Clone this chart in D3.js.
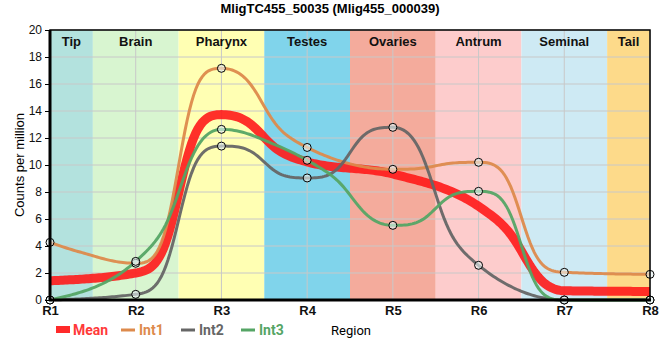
<!DOCTYPE html>
<html>
<head>
<meta charset="utf-8">
<script src="https://cdn.jsdelivr.net/npm/d3@7"></script>
<style>
  body { margin: 0; background: #fff; }
  svg { display: block; }
</style>
</head>
<body>
<svg id="chart" width="660" height="360"></svg>
<script>
const title = "MligTC455_50035 (Mlig455_000039)";
const regions = ["R1", "R2", "R3", "R4", "R5", "R6", "R7", "R8"];
const bandNames = ["Tip", "Brain", "Pharynx", "Testes", "Ovaries", "Antrum", "Seminal", "Tail"];
const bandColors = ["#b3e2de", "#d8f5d0", "#ffffb3", "#80d4eb", "#f4ab9c", "#fdcccc", "#ceeaf4", "#fdda8a"];
const int1 = [4.27, 2.72, 17.16, 11.3, 9.68, 10.2, 2.05, 1.9];
const int2 = [0, 0.42, 11.4, 9.04, 12.79, 2.57, 0, 0];
const int3 = [0, 2.86, 12.64, 10.35, 5.53, 8.05, 0, 0];
const yTicks = [0, 2, 4, 6, 8, 10, 12, 14, 16, 18, 20];
const seriesNames = ["Int1", "Int2", "Int3"];
const seriesColors = ["#dd8a4c", "#666666", "#55a565"];
const meanValues = regions.map((r, i) => (int1[i] + int2[i] + int3[i]) / 3);

// smooth curve factory: monotone tangents, blending cubic Hermite and a steep sigmoid near extrema
function curveSmoothStep(context) {
  let xs, ys;
  return {
    areaStart() {}, areaEnd() {},
    lineStart() { xs = []; ys = []; },
    point(px, py) { xs.push(+px); ys.push(+py); },
    lineEnd() {
      const n = xs.length;
      if (!n) return;
      const sl = [];
      for (let i = 0; i < n - 1; i++) sl.push((ys[i + 1] - ys[i]) / (xs[i + 1] - xs[i]));
      const m = new Array(n).fill(0);
      for (let i = 1; i < n - 1; i++) {
        const s0 = sl[i - 1], s1 = sl[i], p = (s0 + s1) / 2;
        m[i] = (Math.sign(s0) + Math.sign(s1)) * Math.min(Math.abs(s0), Math.abs(s1), 0.5 * Math.abs(p)) || 0;
      }
      if (n > 1) {
        const e0 = (3 * sl[0] - m[1]) / 2, e1 = (3 * sl[n - 2] - m[n - 2]) / 2;
        m[0] = e0 * sl[0] > 0 ? e0 : 0;
        m[n - 1] = e1 * sl[n - 2] > 0 ? e1 : 0;
      }
      const sig = t => { const a = Math.pow(t, 2.5), b = Math.pow(1 - t, 2.5); return a / (a + b); };
      context.moveTo(xs[0], ys[0]);
      for (let i = 0; i < n - 1; i++) {
        const h = xs[i + 1] - xs[i], d = ys[i + 1] - ys[i];
        const a0 = h * m[i], a1 = h * m[i + 1];
        const w = Math.abs(d) < 1e-9 ? 1 : Math.max(0, Math.min(1, 1 - (Math.abs(a0) + Math.abs(a1)) / (2 * Math.abs(d))));
        const steps = 40;
        for (let k = 1; k <= steps; k++) {
          const t = k / steps, s = sig(t);
          const steep = ys[i] + d * s + a0 * (t - s) * (1 - t) + a1 * (t - s) * t;
          const t2 = t * t, t3 = t2 * t;
          const cubic = ys[i] * (2 * t3 - 3 * t2 + 1) + ys[i + 1] * (3 * t2 - 2 * t3) + a0 * (t3 - 2 * t2 + t) + a1 * (t3 - t2);
          context.lineTo(xs[i] + h * t, w * steep + (1 - w) * cubic);
        }
      }
    }
  };
}

const svg = d3.select("#chart");
const L = 50, R = 650, T = 30, B = 300;

const x = d3.scalePoint().domain(regions).range([L, R]);
const y = d3.scaleLinear().domain([0, 20]).range([B, T]);
const step = x.step();
const bandL = i => Math.max(L, x(regions[i]) - step / 2);
const bandR = i => Math.min(R, x(regions[i]) + step / 2);

// bands
const g = svg.append("g");
g.selectAll("rect.band").data(bandNames).enter().append("rect")
  .attr("class", "band")
  .attr("x", (d, i) => bandL(i))
  .attr("width", (d, i) => bandR(i) - bandL(i))
  .attr("y", T).attr("height", B - T)
  .attr("fill", (d, i) => bandColors[i]);

// grid
g.selectAll("line.hgrid").data(yTicks).enter().append("line")
  .attr("x1", L).attr("x2", R).attr("y1", d => y(d)).attr("y2", d => y(d))
  .attr("stroke", "#c8c8c8").attr("stroke-width", 1);
g.selectAll("line.vgrid").data(regions).enter().append("line")
  .attr("x1", d => x(d)).attr("x2", d => x(d)).attr("y1", T).attr("y2", B)
  .attr("stroke", "#c8c8c8").attr("stroke-width", 1);

// band labels
g.selectAll("text.band").data(bandNames).enter().append("text")
  .attr("x", (d, i) => (bandL(i) + bandR(i)) / 2)
  .attr("y", 46)
  .attr("text-anchor", "middle")
  .attr("font-family", "Liberation Sans, Arial, sans-serif")
  .attr("font-weight", "bold").attr("font-size", 13)
  .attr("fill", "#111")
  .text(d => d);

// lines
const line = d3.line().x((d, i) => x(regions[i])).y(d => y(d)).curve(curveSmoothStep);
svg.append("path").datum(meanValues)
  .attr("d", line).attr("fill", "none")
  .attr("stroke", "#ff1a1a").attr("stroke-opacity", 0.9).attr("stroke-width", 9);
[int1, int2, int3].forEach((vals, k) => {
  svg.append("path").datum(vals)
    .attr("d", line).attr("fill", "none")
    .attr("stroke", seriesColors[k]).attr("stroke-opacity", 0.95).attr("stroke-width", 3);
});
[int1, int2, int3].forEach((vals, k) => {
  svg.selectAll(null).data(vals).enter().append("circle")
    .attr("cx", (d, i) => x(regions[i])).attr("cy", d => y(d)).attr("r", 4)
    .attr("fill", "#e8f4f4").attr("fill-opacity", 0.6)
    .attr("stroke", "#000").attr("stroke-width", 1);
});

// frame
svg.append("rect").attr("x", L).attr("y", T).attr("width", R - L).attr("height", B - T)
  .attr("fill", "none").attr("stroke", "#000").attr("stroke-width", 1.5);
svg.append("line").attr("x1", L).attr("x2", L).attr("y1", T).attr("y2", B + 1)
  .attr("stroke", "#000").attr("stroke-width", 3);
svg.append("line").attr("x1", L - 1).attr("x2", R + 1).attr("y1", B).attr("y2", B)
  .attr("stroke", "#000").attr("stroke-width", 3);

// axes
const yAxis = d3.axisLeft(y).tickValues(yTicks).tickSize(5).tickPadding(3);
const ya = svg.append("g").attr("transform", `translate(${L},0)`).call(yAxis);
ya.select(".domain").remove();
ya.selectAll("text").attr("font-family", "Liberation Sans, Arial, sans-serif").attr("font-size", 12).attr("fill", "#111");
ya.selectAll("line").attr("stroke", "#000");

const xAxis = d3.axisBottom(x).tickSize(0).tickPadding(6);
const xa = svg.append("g").attr("transform", `translate(0,${B})`).call(xAxis);
xa.select(".domain").remove();
xa.selectAll("text").attr("font-family", "Liberation Sans, Arial, sans-serif").attr("font-size", 13)
  .attr("font-weight", "bold").attr("fill", "#111");

// title
svg.append("text").attr("x", 330).attr("y", 13).attr("text-anchor", "middle")
  .attr("font-family", "Liberation Sans, Arial, sans-serif").attr("font-weight", "bold").attr("font-size", 13)
  .attr("fill", "#000").text(title);

// y label
svg.append("text").attr("transform", "translate(24,165) rotate(-90)")
  .attr("text-anchor", "middle")
  .attr("font-family", "Liberation Sans, Arial, sans-serif").attr("font-size", 13)
  .attr("fill", "#000").text("Counts per million");

// legend
const leg = svg.append("g");
leg.append("rect").attr("x", 56).attr("y", 326).attr("width", 14).attr("height", 7).attr("fill", "#ff2a2a");
leg.append("text").attr("x", 73).attr("y", 335).attr("font-family", "Roboto, sans-serif")
  .attr("font-size", 14).attr("font-weight", "bold").attr("fill", "#ff3a3a").text("Mean");
const legX = [121, 181, 241];
seriesNames.forEach((n, k) => {
  leg.append("line").attr("x1", legX[k]).attr("x2", legX[k] + 14).attr("y1", 330).attr("y2", 330)
    .attr("stroke", seriesColors[k]).attr("stroke-width", 3);
  leg.append("text").attr("x", legX[k] + 18).attr("y", 335).attr("font-family", "Roboto, sans-serif")
    .attr("font-size", 14).attr("font-weight", "bold").attr("fill", seriesColors[k]).text(n);
});
svg.append("text").attr("x", 351).attr("y", 335).attr("text-anchor", "middle")
  .attr("font-family", "Roboto, sans-serif").attr("font-size", 13).attr("fill", "#000").text("Region");
</script>
</body>
</html>
